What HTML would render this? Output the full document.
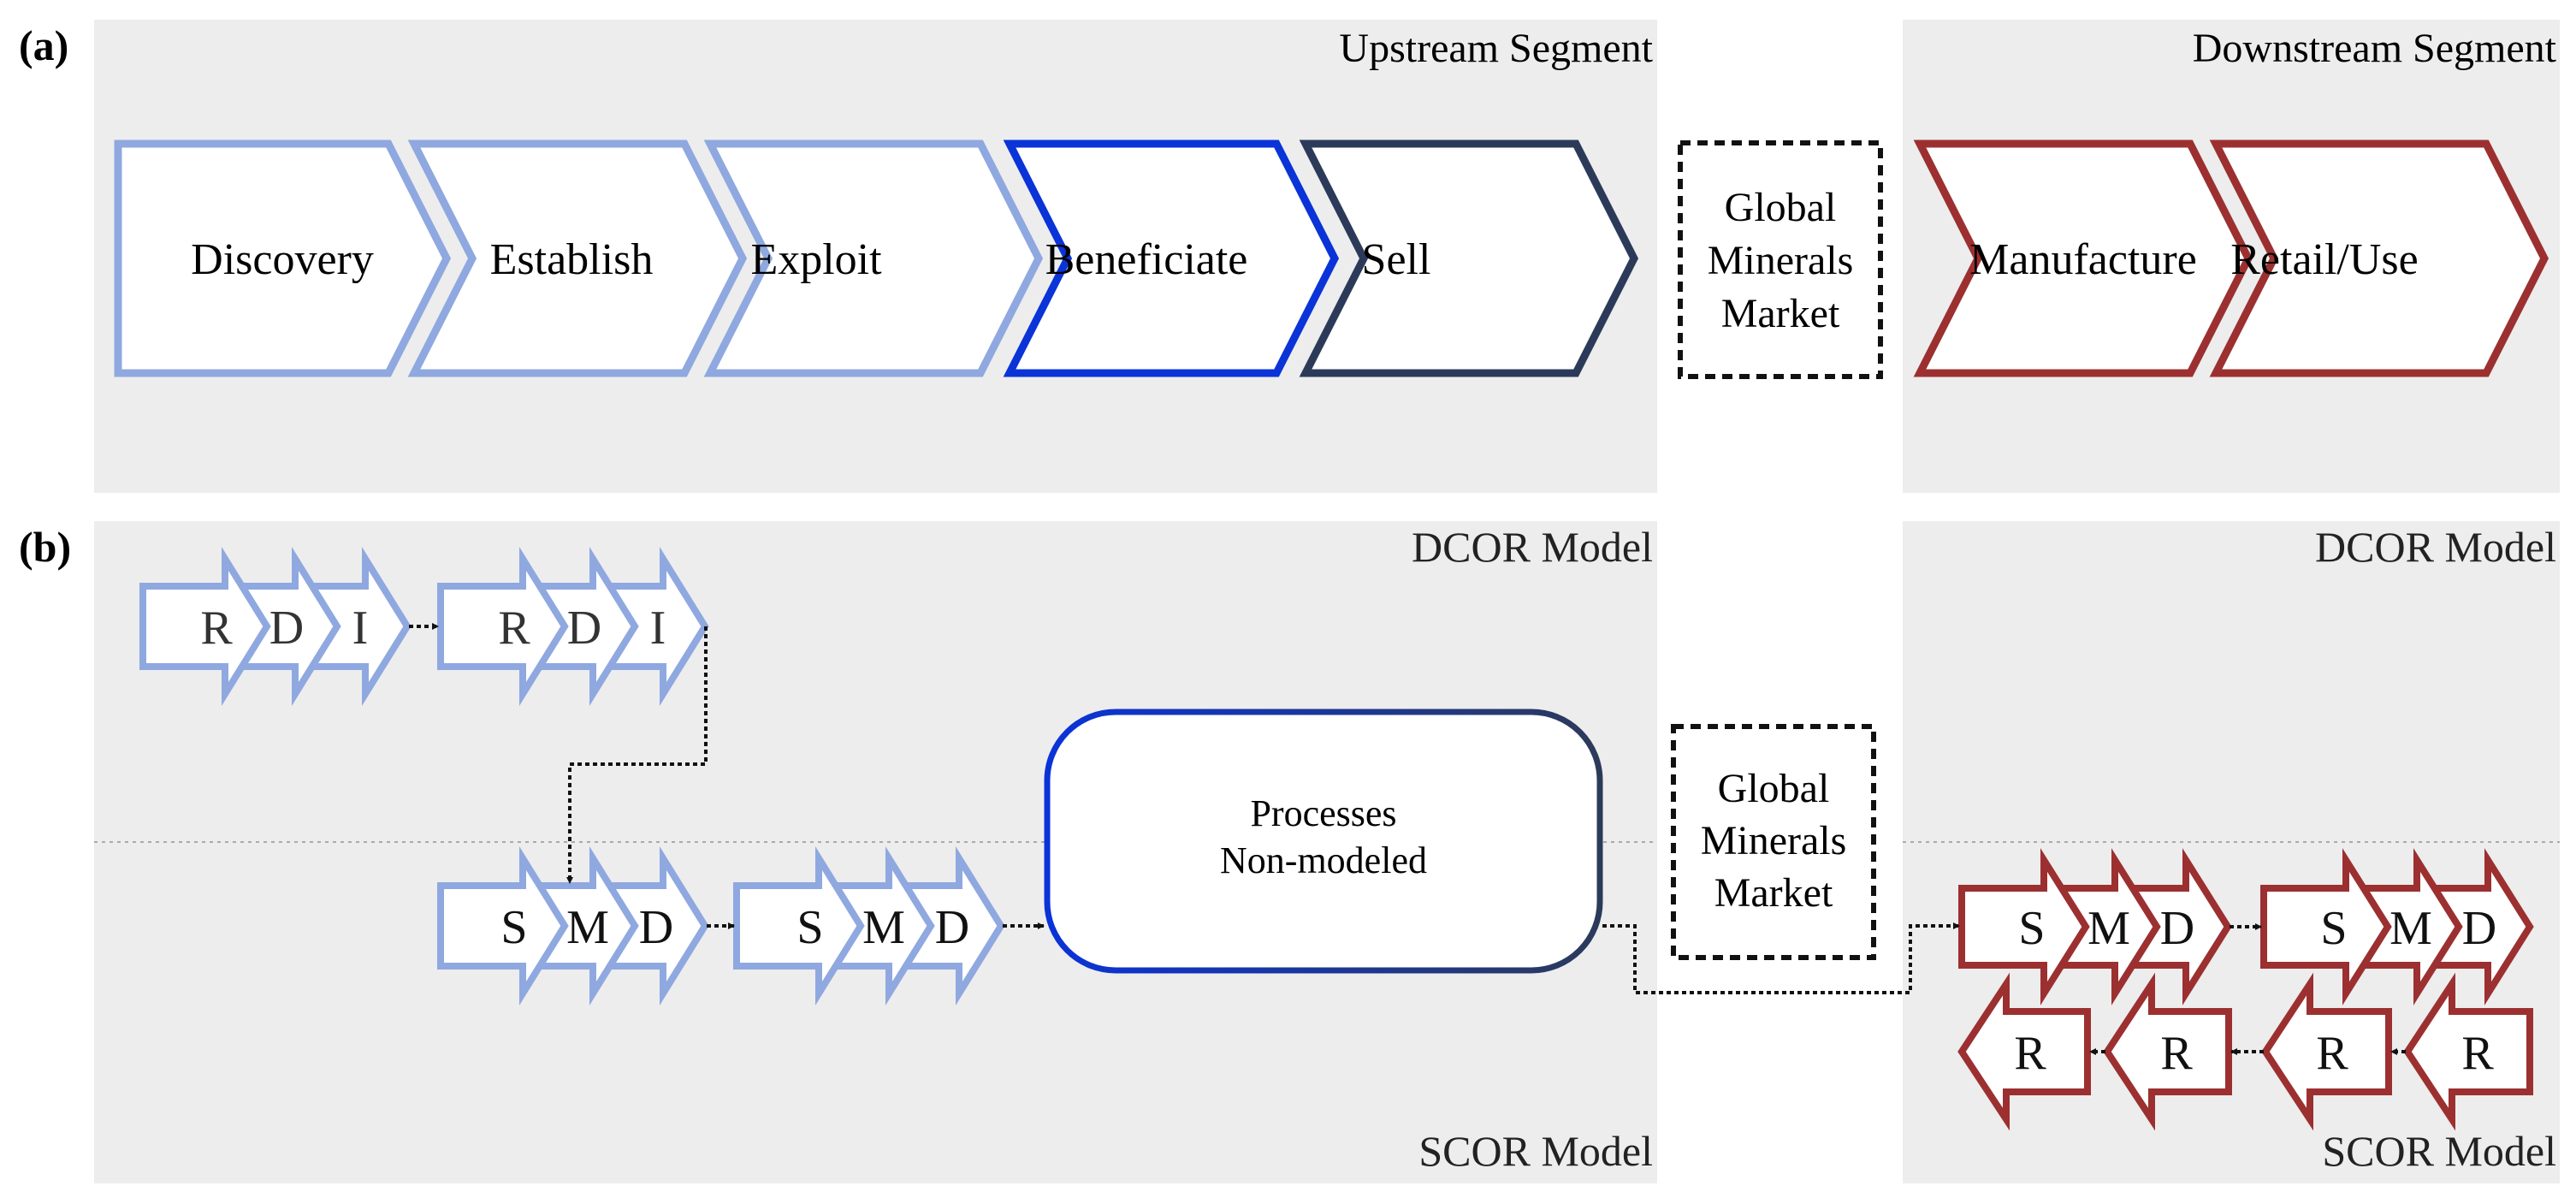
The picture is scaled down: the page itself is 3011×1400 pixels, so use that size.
<!DOCTYPE html>
<html><head><meta charset="utf-8"><style>
html,body{margin:0;padding:0;background:#fff;}
svg{display:block;}
text{font-family:"Liberation Serif",serif;}
</style></head><body>
<svg width="3011" height="1400" viewBox="0 0 3011 1400" xmlns="http://www.w3.org/2000/svg">
<defs>
<linearGradient id="pg" x1="0" y1="0" x2="1" y2="0">
<stop offset="0" stop-color="#0a33d8"/><stop offset="1" stop-color="#2c3a5a"/>
</linearGradient>
<marker id="ah" markerWidth="8" markerHeight="8" refX="7" refY="4" orient="auto" markerUnits="userSpaceOnUse" viewBox="0 0 8 8">
<path d="M0,0 L8,4 L0,8 Z" fill="#111"/>
</marker>
</defs>
<rect x="110" y="23" width="1827" height="553" fill="#ededed"/>
<rect x="2224" y="23" width="768" height="553" fill="#ededed"/>
<rect x="110" y="609" width="1827" height="774" fill="#ededed"/>
<rect x="2224" y="609" width="768" height="774" fill="#ededed"/>
<text x="22" y="70" font-size="50" font-weight="bold">(a)</text>
<text x="22" y="656" font-size="50" font-weight="bold">(b)</text>
<text x="1932" y="72" font-size="48" text-anchor="end">Upstream Segment</text>
<text x="2988" y="72" font-size="48" text-anchor="end">Downstream Segment</text>
<text x="1932" y="656" font-size="50" text-anchor="end" fill="#222">DCOR Model</text>
<text x="2988" y="656" font-size="50" text-anchor="end" fill="#222">DCOR Model</text>
<text x="1932" y="1362" font-size="50" text-anchor="end" fill="#222">SCOR Model</text>
<text x="2988" y="1362" font-size="50" text-anchor="end" fill="#222">SCOR Model</text>

<g stroke-width="9" fill="#fff" stroke-linejoin="miter">
<path d="M138,168 L454,168 L522,302 L454,436 L138,436 Z" stroke="#8fa8e0"/>
<path d="M484,168 L800,168 L868,302 L800,436 L484,436 L552,302 Z" stroke="#8fa8e0"/>
<path d="M830,168 L1146,168 L1214,302 L1146,436 L830,436 L898,302 Z" stroke="#8fa8e0"/>
<path d="M1180,168 L1492,168 L1560,302 L1492,436 L1180,436 L1248,302 Z" stroke="#0a33d8"/>
<path d="M1526,168 L1842,168 L1910,302 L1842,436 L1526,436 L1594,302 Z" stroke="#2c3a5a"/>
<path d="M2244,168 L2560,168 L2628,302 L2560,436 L2244,436 L2312,302 Z" stroke="#9c3030"/>
<path d="M2590,168 L2906,168 L2974,302 L2906,436 L2590,436 L2658,302 Z" stroke="#9c3030"/>
</g>
<g font-size="52" text-anchor="middle">
<text x="330" y="320">Discovery</text>
<text x="668" y="320">Establish</text>
<text x="954" y="320">Exploit</text>
<text x="1340" y="320">Beneficiate</text>
<text x="1632" y="320">Sell</text>
<text x="2435" y="320">Manufacture</text>
<text x="2717" y="320">Retail/Use</text>
</g>
<rect x="1964" y="167" width="234" height="273" fill="none" stroke="#111" stroke-width="6" stroke-dasharray="12,8"/>
<g font-size="48" text-anchor="middle">
<text x="2081" y="258">Global</text>
<text x="2081" y="320">Minerals</text>
<text x="2081" y="382">Market</text>
</g>

<line x1="110" y1="984" x2="1937" y2="984" stroke="#aaa" stroke-width="2" stroke-dasharray="4,5"/>
<line x1="2224" y1="984" x2="2992" y2="984" stroke="#aaa" stroke-width="2" stroke-dasharray="4,5"/>

<g stroke="#8fa8e0" stroke-width="8" fill="#fff">
<path d="M331,685 L427,685 L427,653 L476,732 L427,811 L427,779 L331,779 Z"/>
<path d="M249,685 L345,685 L345,653 L394,732 L345,811 L345,779 L249,779 Z"/>
<path d="M167,685 L263,685 L263,653 L312,732 L263,811 L263,779 L167,779 Z"/>
<path d="M679,685 L775,685 L775,653 L824,732 L775,811 L775,779 L679,779 Z"/>
<path d="M597,685 L693,685 L693,653 L742,732 L693,811 L693,779 L597,779 Z"/>
<path d="M515,685 L611,685 L611,653 L660,732 L611,811 L611,779 L515,779 Z"/>
<path d="M679,1035 L775,1035 L775,1003 L824,1082 L775,1161 L775,1129 L679,1129 Z"/>
<path d="M597,1035 L693,1035 L693,1003 L742,1082 L693,1161 L693,1129 L597,1129 Z"/>
<path d="M515,1035 L611,1035 L611,1003 L660,1082 L611,1161 L611,1129 L515,1129 Z"/>
<path d="M1025,1035 L1121,1035 L1121,1003 L1170,1082 L1121,1161 L1121,1129 L1025,1129 Z"/>
<path d="M943,1035 L1039,1035 L1039,1003 L1088,1082 L1039,1161 L1039,1129 L943,1129 Z"/>
<path d="M861,1035 L957,1035 L957,1003 L1006,1082 L957,1161 L957,1129 L861,1129 Z"/>
</g>
<g font-size="56" text-anchor="middle" fill="#333">
<text x="253" y="752">R</text><text x="335" y="752">D</text><text x="421" y="752">I</text>
<text x="601" y="752">R</text><text x="683" y="752">D</text><text x="769" y="752">I</text>
</g>
<g font-size="56" text-anchor="middle" fill="#111">
<text x="601" y="1102">S</text><text x="687" y="1102">M</text><text x="767" y="1102">D</text>
<text x="947" y="1102">S</text><text x="1033" y="1102">M</text><text x="1113" y="1102">D</text>
</g>

<rect x="1224" y="832" width="646" height="302" rx="80" ry="80" fill="#fff" stroke="url(#pg)" stroke-width="7"/>
<g font-size="44" text-anchor="middle">
<text x="1547" y="965">Processes</text>
<text x="1547" y="1020">Non-modeled</text>
</g>

<rect x="1956" y="849" width="234" height="270" fill="none" stroke="#111" stroke-width="6" stroke-dasharray="12,8"/>
<g font-size="48" text-anchor="middle">
<text x="2073" y="937">Global</text>
<text x="2073" y="998">Minerals</text>
<text x="2073" y="1059">Market</text>
</g>

<g stroke="#9c3030" stroke-width="8" fill="#fff">
<path d="M2459,1038 L2555,1038 L2555,1005 L2604,1083 L2555,1161 L2555,1128 L2459,1128 Z"/>
<path d="M2376,1038 L2472,1038 L2472,1005 L2521,1083 L2472,1161 L2472,1128 L2376,1128 Z"/>
<path d="M2293,1038 L2389,1038 L2389,1005 L2438,1083 L2389,1161 L2389,1128 L2293,1128 Z"/>
<path d="M2812,1038 L2908,1038 L2908,1005 L2957,1083 L2908,1161 L2908,1128 L2812,1128 Z"/>
<path d="M2729,1038 L2825,1038 L2825,1005 L2874,1083 L2825,1161 L2825,1128 L2729,1128 Z"/>
<path d="M2646,1038 L2742,1038 L2742,1005 L2791,1083 L2742,1161 L2742,1128 L2646,1128 Z"/>
<path d="M2293,1229 L2345,1150 L2345,1182 L2440,1182 L2440,1276 L2345,1276 L2345,1308 Z"/>
<path d="M2463,1229 L2515,1150 L2515,1182 L2605,1182 L2605,1276 L2515,1276 L2515,1308 Z"/>
<path d="M2648,1229 L2700,1150 L2700,1182 L2792,1182 L2792,1276 L2700,1276 L2700,1308 Z"/>
<path d="M2814,1229 L2866,1150 L2866,1182 L2957,1182 L2957,1276 L2866,1276 L2866,1308 Z"/>
</g>
<g font-size="56" text-anchor="middle" fill="#111">
<text x="2375" y="1103">S</text><text x="2465" y="1103">M</text><text x="2545" y="1103">D</text>
<text x="2728" y="1103">S</text><text x="2818" y="1103">M</text><text x="2898" y="1103">D</text>
<text x="2373" y="1249">R</text><text x="2544" y="1249">R</text><text x="2726" y="1249">R</text><text x="2896" y="1249">R</text>
</g>

<g fill="none" stroke="#111" stroke-width="4" stroke-dasharray="5,4">
<path d="M478,732 L512,732" marker-end="url(#ah)"/>
<path d="M825,732 L825,893 L666,893 L666,1032" marker-end="url(#ah)"/>
<path d="M826,1082 L858,1082" marker-end="url(#ah)"/>
<path d="M1172,1082 L1220,1082" marker-end="url(#ah)"/>
<path d="M1873,1082 L1911,1082 L1911,1160 L2233,1160 L2233,1082 L2290,1082" marker-end="url(#ah)"/>
<path d="M2606,1083 L2643,1083" marker-end="url(#ah)"/>
<path d="M2812,1229 L2795,1229" marker-end="url(#ah)"/>
<path d="M2646,1229 L2608,1229" marker-end="url(#ah)"/>
<path d="M2461,1229 L2443,1229" marker-end="url(#ah)"/>
</g>
</svg>
</body></html>
